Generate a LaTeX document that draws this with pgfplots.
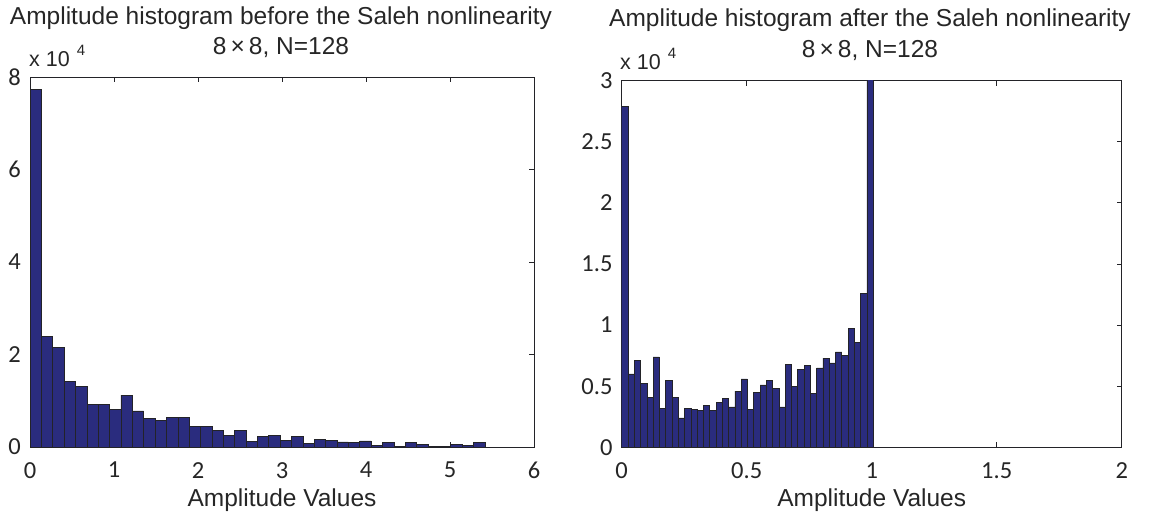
\documentclass[border=0pt]{standalone}
\usepackage{fontspec}
\usepackage{pgfplots}
\pgfplotsset{compat=1.18}
\setmainfont{Liberation Sans}
\newfontfamily\calib{Carlito}
\definecolor{barblue}{RGB}{42,44,126}
\definecolor{axgray}{RGB}{35,35,40}

\begin{document}
\begin{tikzpicture}
\useasboundingbox (0,0) rectangle (1151pt,517pt);
\pgfplotsset{
  hist/.style={
    scale only axis,
    axis line style={axgray, line width=0.9pt},
    tick align=inside,
    major tick length=5pt,
    tick style={axgray, line width=0.8pt},
    ymin=0,
    scaled y ticks=false,
    scaled x ticks=false,
    /pgf/number format/assume math mode=true,
    tick label style={font=\calib\fontsize{24.5}{24.5}\selectfont, text=black!85, inner sep=0pt},
    xticklabel style={anchor=north, yshift=-15pt},
    yticklabel style={anchor=east, xshift=-9pt},
    xlabel style={font=\fontsize{24.5}{28}\selectfont, text=black!85, at={(axis description cs:0.5,0)}, anchor=base, yshift=-59.6pt},
    xlabel={Amplitude Values},
  },
  histbar/.style={ybar interval, fill=barblue, draw=axgray, line width=0.7pt},
}

% ---------------- left: before ----------------
\begin{axis}[hist, at={(30pt,70pt)}, anchor=south west, width=504pt, height=370pt,
  xmin=0, xmax=6, ymax=8, xtick={0,1,2,3,4,5,6}, ytick={0,2,4,6,8}]
\addplot[histbar] coordinates {
(0,7.73) (0.1354,2.39) (0.2708,2.16) (0.4062,1.42) (0.5416,1.31)
(0.6770,0.92) (0.8124,0.92) (0.9478,0.81) (1.0832,1.12) (1.2186,0.78)
(1.3540,0.61) (1.4894,0.58) (1.6248,0.64) (1.7602,0.64) (1.8956,0.45)
(2.0310,0.45) (2.1664,0.36) (2.3018,0.25) (2.4372,0.36) (2.5726,0.12)
(2.7080,0.23) (2.8434,0.25) (2.9788,0.14) (3.1142,0.22) (3.2496,0.07)
(3.3850,0.17) (3.5204,0.15) (3.6558,0.11) (3.7912,0.09) (3.9266,0.13)
(4.0620,0.03) (4.1974,0.09) (4.3328,0.02) (4.4682,0.09) (4.6036,0.05)
(4.7390,0.01) (4.8744,0.01) (5.0098,0.05) (5.1452,0.04) (5.2806,0.10)
(5.4160,0.10)
};
\end{axis}

% ---------------- right: after ----------------
\begin{axis}[hist, at={(621.7pt,69.7pt)}, anchor=south west, width=500pt, height=366.6pt,
  xmin=0, xmax=2, ymax=3, xtick={0,0.5,1,1.5,2}, ytick={0,0.5,1,1.5,2,2.5,3},
  xticklabels={0,0.5,1,1.5,2}, yticklabels={0,0.5,1,1.5,2,2.5,3}]
\addplot[histbar] coordinates {
(0,2.79) (0.02515,0.60) (0.0503,0.71) (0.07545,0.52) (0.1006,0.41)
(0.12575,0.74) (0.1509,0.32) (0.17605,0.55) (0.2012,0.41) (0.22635,0.24)
(0.2515,0.32) (0.27665,0.31) (0.3018,0.30) (0.32695,0.34) (0.3521,0.30)
(0.37725,0.37) (0.4024,0.40) (0.42755,0.33) (0.4527,0.46) (0.47785,0.56)
(0.503,0.31) (0.52815,0.45) (0.5533,0.51) (0.57845,0.55) (0.6036,0.48)
(0.62875,0.33) (0.6539,0.68) (0.67905,0.50) (0.7042,0.64) (0.72935,0.67)
(0.7545,0.44) (0.77965,0.65) (0.8048,0.73) (0.82995,0.69) (0.8551,0.78)
(0.88025,0.75) (0.9054,0.97) (0.93055,0.86) (0.9557,1.26) (0.98085,5.00)
(1.006,5.00)
};
\end{axis}

% titles
\begin{scope}[every node/.style={font=\fontsize{24.5}{28}\selectfont, text=black!85, anchor=base, inner sep=0pt}]
\node at (281pt,492pt) {Amplitude histogram before the Saleh nonlinearity};
\node at (281pt,462pt) {8\hspace{4pt}×\hspace{4pt}8, N=128};
\node at (870pt,490pt) {Amplitude histogram after the Saleh nonlinearity};
\node at (870pt,459pt) {8\hspace{4pt}×\hspace{4pt}8, N=128};
\end{scope}
% exponent labels
\node[anchor=base west, inner sep=0pt, text=black!85, font=\fontsize{21.5}{22}\selectfont] at (29pt,450pt)
  {x 10\hspace{7pt}\raisebox{11pt}{\fontsize{15}{15}\selectfont 4}};
\node[anchor=base west, inner sep=0pt, text=black!85, font=\fontsize{21.5}{22}\selectfont] at (620pt,447pt)
  {x 10\hspace{7pt}\raisebox{11pt}{\fontsize{15}{15}\selectfont 4}};
\end{tikzpicture}
\end{document}
